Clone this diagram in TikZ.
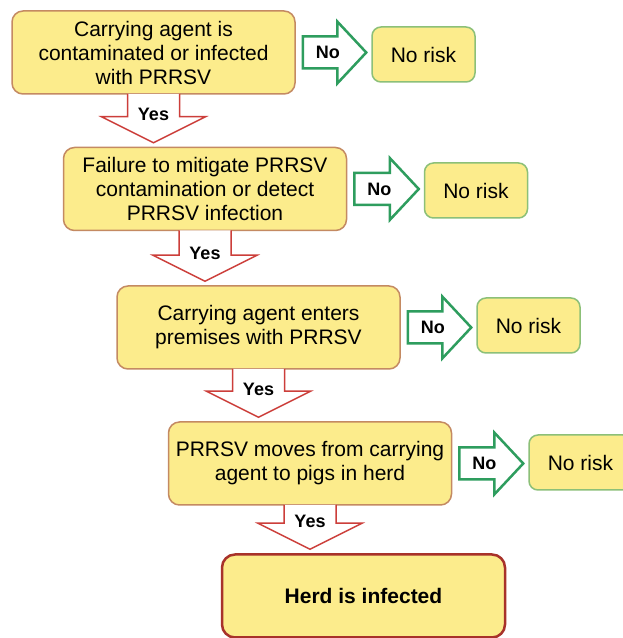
\documentclass[tikz,border=0pt]{standalone}
\usepackage{fontspec}
\setmainfont{Liberation Sans}
\usetikzlibrary{positioning, calc}
\definecolor{boxFill}{RGB}{252,236,140}
\definecolor{boxEdge}{RGB}{196,138,98}
\definecolor{riskEdge}{RGB}{140,192,120}
\definecolor{endEdge}{RGB}{168,50,42}
\definecolor{yesRed}{RGB}{204,62,58}
\definecolor{noGreen}{RGB}{46,157,94}

\begin{document}
\begin{tikzpicture}[x=1pt, y=1pt,
		stepbox/.style={draw=boxEdge, line width=1.5pt, fill=boxFill, rounded corners=11pt,
			minimum width=283pt, minimum height=83pt, align=center,
			font=\fontsize{21}{24}\selectfont},
		riskbox/.style={draw=riskEdge, line width=1.5pt, fill=boxFill, rounded corners=9pt,
			minimum width=103pt, minimum height=55pt, font=\fontsize{21}{24}\selectfont},
		endbox/.style={stepbox, draw=endEdge, line width=2.5pt, rounded corners=13pt,
			font=\fontsize{21}{24}\selectfont\bfseries},
		yesarrow/.style={draw=yesRed, line width=1.5pt, fill=white, line join=miter},
		noarrow/.style={draw=noGreen, line width=2.5pt, fill=white, line join=miter},
		tag/.style={font=\fontsize{18}{20}\selectfont\bfseries, inner sep=1pt}]
	\clip (0,0) rectangle (623,638);
	\fill[white] (0,0) rectangle (623,638);

	% main chain of questions
	\node[stepbox] (b1) at (153.5,585.5) {Carrying agent is\\contaminated or infected\\with PRRSV};
	\node[stepbox] (b2) at (205,449) {Failure to mitigate PRRSV\\contamination or detect\\PRRSV infection};
	\node[stepbox] (b3) at (258.5,310.5) {Carrying agent enters\\premises with PRRSV};
	\node[stepbox] (b4) at (310,174.5) {PRRSV moves from carrying\\agent to pigs in herd};
	\node[endbox] (b5) at (363.5,42) {Herd is infected};

	% side exits
	\node[riskbox] (r1) at (423.5,583.5) {No risk};
	\node[riskbox] (r2) at (476,447.5) {No risk};
	\node[riskbox] (r3) at (528.5,312.5) {No risk};
	\node[riskbox] (r4) at (580.5,175.5) {No risk};

	% Yes arrows down the chain
	\foreach \a/\b in {b1/b2, b2/b3, b3/b4, b4/b5} {
		\coordinate (tip) at ($(\a.south |- \b.north)+(0,4)$);
		\draw[yesarrow] ($(\a.south)+(-26,0.8)$) -- ($(tip)+(-26,26)$) -- ($(tip)+(-52,26)$)
			-- (tip) -- ($(tip)+(52,26)$) -- ($(tip)+(26,26)$) -- ($(\a.south)+(26,0.8)$);
		\node[tag] (yes-\a) at ($(tip)+(0,28)$) {Yes};
	}

	% No arrows to the side
	\foreach \a/\r in {b1/r1, b2/r2, b3/r3, b4/r4} {
		\coordinate (start) at ($(\a.east)+(7,0)$);
		\coordinate (tip) at ($(\a.east -| \r.west)+(-5,0)$);
		\draw[noarrow] ($(start)+(0,16)$) -- ($(tip)+(-29,16)$) -- ($(tip)+(-29,31)$) -- (tip)
			-- ($(tip)+(-29,-31)$) -- ($(tip)+(-29,-16)$) -- ($(start)+(0,-16)$) -- cycle;
		\node[tag] (no-\a) at ($(start)+(25,0)$) {No};
	}
\end{tikzpicture}
\end{document}
